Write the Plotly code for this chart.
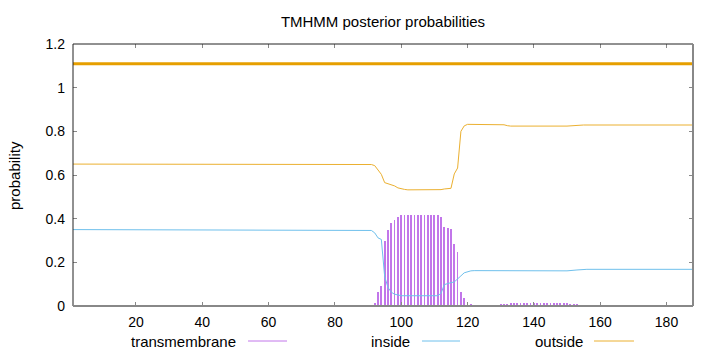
import plotly.graph_objects as go

# ---- data ----
residue_range = [1, 188]

# predicted topology (thick line at top): whole sequence outside
topo_x = [1, 188]
topo_y = [1.11, 1.11]

# transmembrane posterior (impulses)
tm_x = [90, 91, 92, 93, 94, 95, 96, 97, 98, 99, 100, 101, 102, 103, 104, 105, 106,
        107, 108, 109, 110, 111, 112, 113, 114, 115, 116, 117, 118, 119, 120, 121,
        122, 123,
        129, 130, 131, 132, 133, 134, 135, 136, 137, 138, 139, 140, 141, 142, 143,
        144, 145, 146, 147, 148, 149, 150, 151, 152, 153, 154]
tm_y = [0.002, 0.004, 0.012, 0.063, 0.090, 0.300, 0.350, 0.382, 0.392, 0.408, 0.415,
        0.418, 0.418, 0.418, 0.418, 0.418, 0.418, 0.418, 0.418, 0.418, 0.418, 0.418,
        0.409, 0.362, 0.355, 0.352, 0.284, 0.248, 0.063, 0.035, 0.012, 0.008,
        0.004, 0.002,
        0.002, 0.005, 0.008, 0.010, 0.012, 0.013, 0.013, 0.013, 0.013, 0.013, 0.013,
        0.013, 0.013, 0.013, 0.013, 0.013, 0.013, 0.013, 0.013, 0.013, 0.013, 0.012,
        0.010, 0.008, 0.005, 0.003]

# inside posterior (line vertices)
inside_x = [1, 91, 92, 93, 94, 95, 96, 97, 98, 99, 100, 111, 112, 113, 114, 115, 116,
            117, 118, 119, 120, 121, 122, 150, 153, 156, 188]
inside_y = [0.350, 0.346, 0.335, 0.312, 0.305, 0.135, 0.085, 0.063, 0.054, 0.049,
            0.047, 0.047, 0.058, 0.098, 0.104, 0.107, 0.110, 0.122, 0.138, 0.152,
            0.158, 0.161, 0.162, 0.161, 0.165, 0.168, 0.168]

# outside posterior (line vertices)
outside_x = [1, 90, 91, 92, 93, 94, 95, 96, 97, 98, 99, 100, 101, 102, 111, 112, 113,
             114, 115, 116, 117, 118, 119, 120, 130, 131, 132, 133, 150, 152, 155, 188]
outside_y = [0.650, 0.650, 0.648, 0.643, 0.625, 0.603, 0.565, 0.560, 0.556, 0.550,
             0.541, 0.536, 0.534, 0.532, 0.532, 0.533, 0.536, 0.538, 0.539, 0.605,
             0.632, 0.800, 0.825, 0.832, 0.833, 0.830, 0.826, 0.824, 0.824, 0.827,
             0.829, 0.829]

x_ticks = [20, 40, 60, 80, 100, 120, 140, 160, 180]
y_ticks = [0, 0.2, 0.4, 0.6, 0.8, 1, 1.2]
y_tick_labels = ["0", "0.2", "0.4", "0.6", "0.8", "1", "1.2"]

legend_names = ["transmembrane", "inside", "outside"]

# ---- styles ----
C_TM = "#c276ea"
C_IN = "#6fc0ec"
C_OUT = "#ebb030"
C_TOPO = "#e69f00"
FONT = "Liberation Sans"

fig = go.Figure()
fig.add_trace(go.Bar(x=tm_x, y=tm_y, width=0.24, marker=dict(color=C_TM, line=dict(width=0)),
                     name=legend_names[0], showlegend=False))
fig.add_trace(go.Scatter(x=inside_x, y=inside_y, mode="lines", line=dict(color=C_IN, width=1),
                         name=legend_names[1], showlegend=False))
fig.add_trace(go.Scatter(x=outside_x, y=outside_y, mode="lines", line=dict(color=C_OUT, width=1),
                         name=legend_names[2], showlegend=False))
fig.add_trace(go.Scatter(x=topo_x, y=topo_y, mode="lines", line=dict(color=C_TOPO, width=3),
                         showlegend=False, hoverinfo="skip"))

# plot frame: left/top black thin, right/bottom gray thicker
fig.add_shape(type="line", xref="paper", yref="paper", x0=0, x1=0, y0=0, y1=1,
              line=dict(color="#222222", width=1), layer="above")
fig.add_shape(type="line", xref="paper", yref="paper", x0=0, x1=1, y0=1, y1=1,
              line=dict(color="#222222", width=1), layer="above")
fig.add_shape(type="line", xref="paper", yref="paper", x0=1, x1=1, y0=0, y1=1,
              line=dict(color="#888888", width=2), layer="above")
fig.add_shape(type="line", xref="paper", yref="paper", x0=0, x1=1, y0=0, y1=0,
              line=dict(color="#888888", width=2), layer="above")

# custom legend (text, then line sample), gnuplot style
leg_y = -0.1336
leg_text_x = [0.2661, 0.5468, 0.8258]
leg_line_x = [(0.2823, 0.3452), (0.5629, 0.6242), (0.8403, 0.9048)]
leg_colors = [C_TM, C_IN, C_OUT]
for name, tx, (lx0, lx1), col in zip(legend_names, leg_text_x, leg_line_x, leg_colors):
    fig.add_annotation(x=tx, y=leg_y, xref="paper", yref="paper", text=name,
                       showarrow=False, xanchor="right", yanchor="middle",
                       font=dict(family=FONT, size=15, color="black"))
    fig.add_shape(type="line", xref="paper", yref="paper", x0=lx0, x1=lx1, y0=leg_y, y1=leg_y,
                  line=dict(color=col, width=1))

# y axis title
fig.add_annotation(x=-0.0952, y=0.5, xref="paper", yref="paper", text="probability",
                   textangle=-90, showarrow=False, xanchor="center", yanchor="middle",
                   font=dict(family=FONT, size=15, color="black"))

fig.update_layout(
    width=720, height=352,
    margin=dict(l=73, r=27, t=44, b=46),
    paper_bgcolor="white", plot_bgcolor="white",
    font=dict(family=FONT, size=14, color="black"),
    title=dict(text="TMHMM posterior probabilities", x=0.5, xref="paper", xanchor="center",
               y=1 - 22 / 352, yref="container", yanchor="middle",
               font=dict(family=FONT, size=15, color="black")),
    bargap=0,
    xaxis=dict(range=residue_range, tickvals=x_ticks, ticks="inside", ticklen=4,
               tickcolor="#888888", tickwidth=1, mirror="ticks", showline=False,
               showgrid=False, zeroline=False, tickfont=dict(family=FONT, size=14),
               ticklabelstandoff=6),
    yaxis=dict(range=[0, 1.2], tickvals=y_ticks, ticktext=y_tick_labels, ticks="inside",
               ticklen=4, tickcolor="#888888", tickwidth=1, mirror="ticks", showline=False,
               showgrid=False, zeroline=False, tickfont=dict(family=FONT, size=14),
               ticklabelstandoff=7),
    showlegend=False,
)

fig.write_html("out.html")
